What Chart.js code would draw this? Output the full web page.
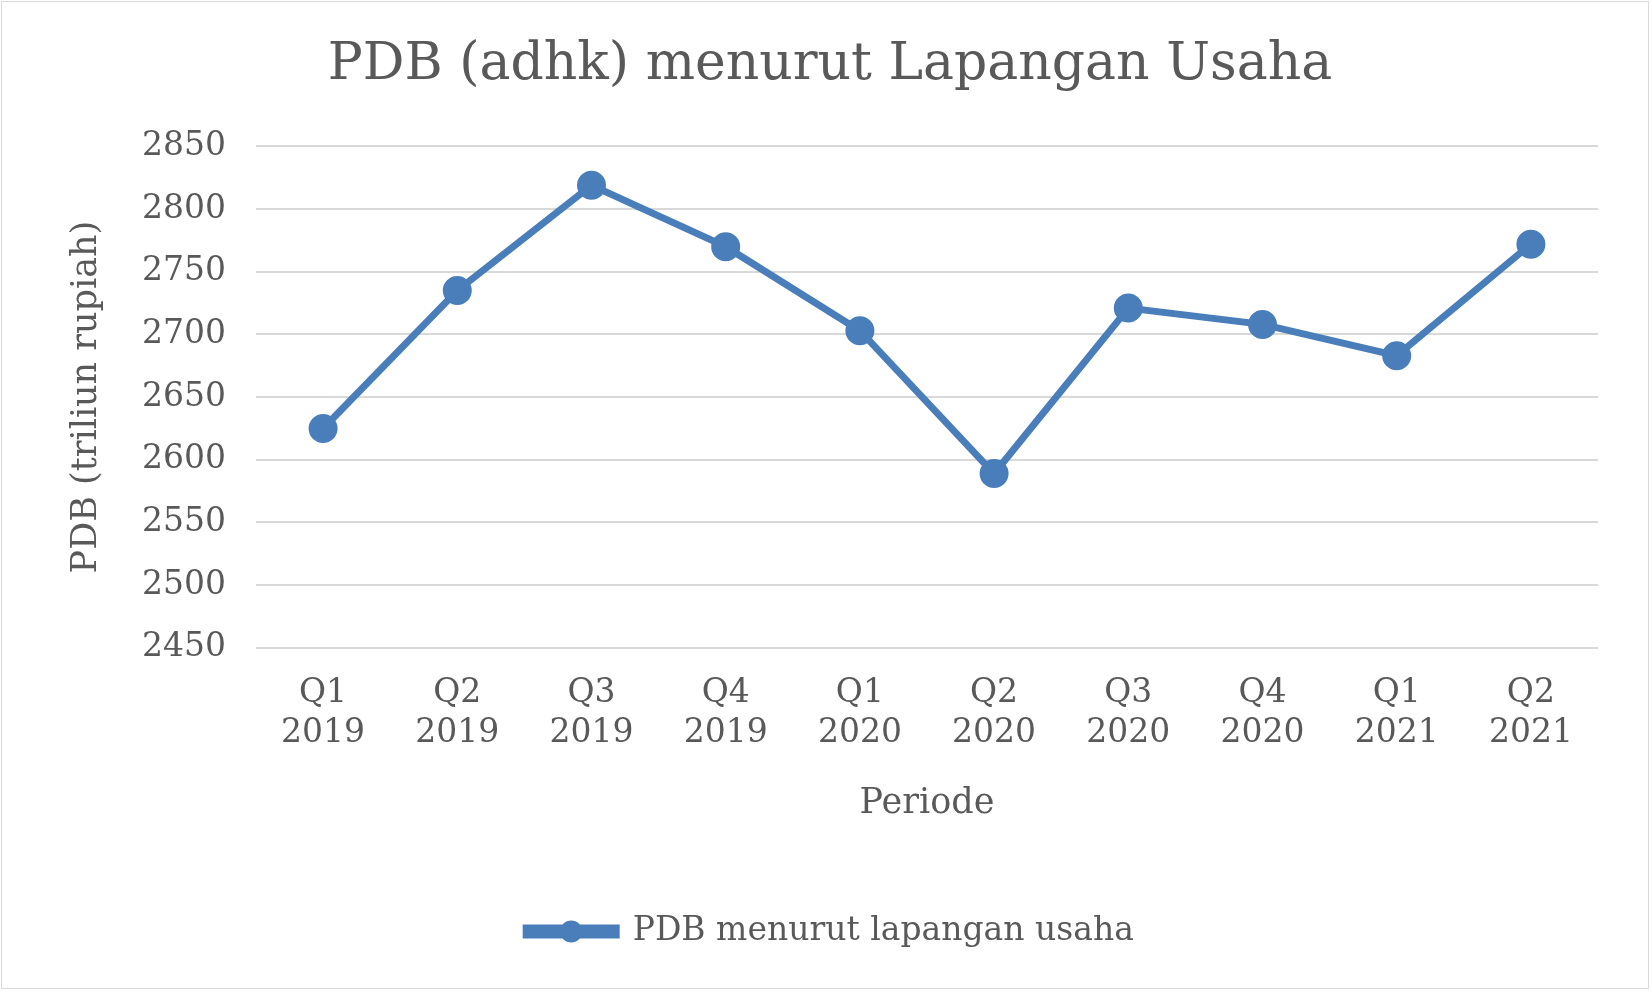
<!DOCTYPE html>
<html><head><meta charset="utf-8">
<script src="https://cdn.jsdelivr.net/npm/chart.js@4"></script>
<style>
html,body{margin:0;padding:0;background:#fff;}
#wrap{position:absolute;left:1px;top:1px;width:1648px;height:988px;border:1px solid #d9d9d9;box-sizing:border-box;}
</style></head><body>
<div id="wrap"><canvas id="c"></canvas></div>
<script>
const categories = [["Q1","2019"],["Q2","2019"],["Q3","2019"],["Q4","2019"],["Q1","2020"],["Q2","2020"],["Q3","2020"],["Q4","2020"],["Q1","2021"],["Q2","2021"]];
const pdbValues = [2625, 2735, 2819, 2770, 2703, 2589, 2721, 2708, 2683, 2772];
const seriesName = "PDB menurut lapangan usaha";
const yMin = 2450, yMax = 2850, yStep = 50;

const grey = "#595959";
const font = "'DejaVu Serif','Liberation Serif',serif";
const legendDot = {
  id: 'legendDot',
  afterDraw(chart) {
    const b = chart.legend && chart.legend.legendHitBoxes && chart.legend.legendHitBoxes[0];
    if (!b) return;
    const ctx = chart.ctx;
    ctx.save();
    ctx.fillStyle = '#4A7EBB';
    ctx.beginPath();
    ctx.arc(b.left + 45, b.top + b.height / 2, 11, 0, Math.PI * 2);
    ctx.fill();
    ctx.restore();
  }
};
new Chart(document.getElementById('c'), {
  type: 'line',
  plugins: [legendDot],
  data: { labels: categories, datasets: [{
    label: seriesName, data: pdbValues,
    borderColor: '#4A7EBB', backgroundColor: '#4A7EBB',
    borderWidth: 7, pointRadius: 11, pointHoverRadius: 11, tension: 0
  }]},
  options: {
    responsive: true, maintainAspectRatio: false, animation: false,
    layout: { padding: { left: 60, right: 50, top: 20, bottom: 30 } },
    plugins: {
      title: { display: true, text: 'PDB (adhk) menurut Lapangan Usaha', color: grey,
        font: { family: font, size: 52, weight: 'normal' }, padding: { top: 12, bottom: 50 } },
      legend: { position: 'bottom', labels: { color: grey, font: { family: font, size: 33 },
        boxWidth: 90, boxHeight: 7, padding: 20 } },
      tooltip: { enabled: false }
    },
    scales: {
      x: { offset: true, grid: { display: false, offset: true }, border: { display: false },
        ticks: { color: grey, font: { family: font, size: 33 }, maxRotation: 0, padding: 18 },
        title: { display: true, text: 'Periode', color: grey, font: { family: font, size: 35 }, padding: { top: 12, bottom: 70 } } },
      y: { min: yMin, max: yMax,
        ticks: { stepSize: yStep, color: grey, font: { family: font, size: 33 }, padding: 30, callback: v => String(v) },
        grid: { color: '#d9d9d9', lineWidth: 2, drawTicks: false }, border: { display: false },
        title: { display: true, text: 'PDB (triliun rupiah)', color: grey, font: { family: font, size: 35 }, padding: { bottom: 4 } } }
    }
  }
});
</script></body></html>
